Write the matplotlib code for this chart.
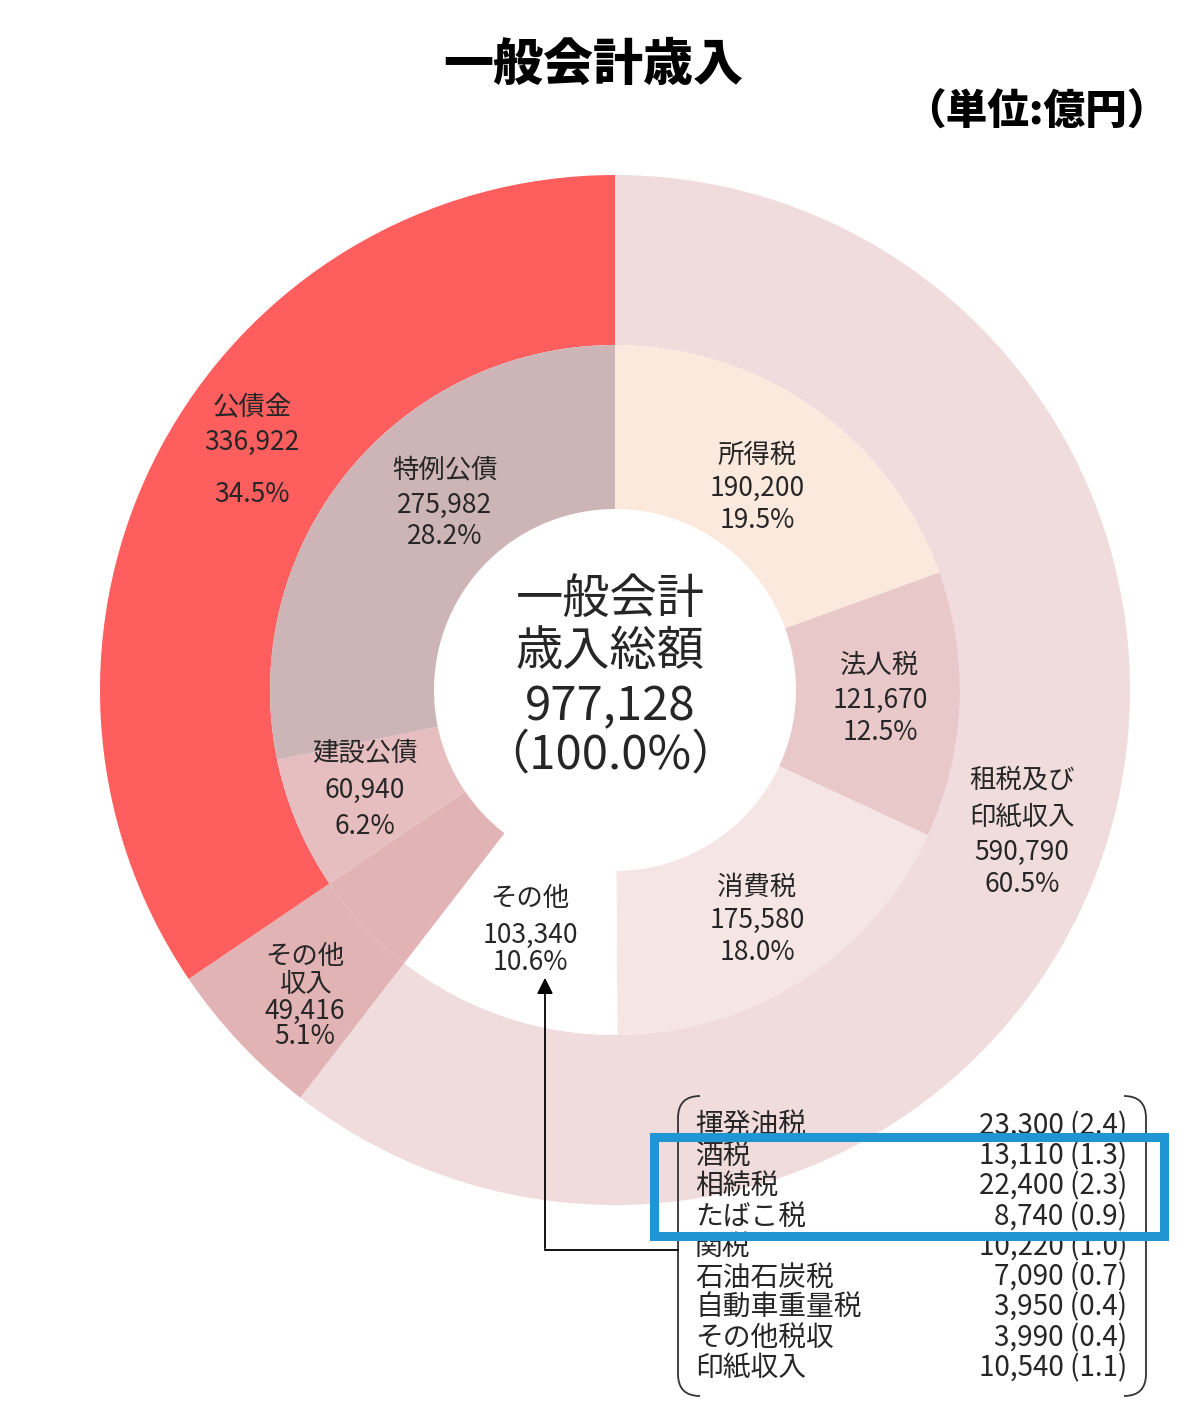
import matplotlib.pyplot as plt
from matplotlib.patches import Rectangle
from matplotlib.path import Path
from matplotlib.patches import PathPatch

plt.rcParams['font.family'] = ['Noto Sans CJK JP', 'DejaVu Sans']

# 外側（大分類）
outer_names = ['租税及び\n印紙収入', 'その他\n収入', '公債金']
outer_values = [590790, 49416, 336922]
outer_colors = ['#F0DCDD', '#E2B3B5', '#FF5E5E']

# 内側（内訳）
inner_names = ['所得税', '法人税', '消費税', 'その他', 'その他収入', '建設公債', '特例公債']
inner_values = [190200, 121670, 175580, 103340, 49416, 60940, 275982]
inner_colors = ['#FCE9DE', '#E9C8CA', '#F6E5E5', '#FFFFFF', '#E2B3B5', '#E7BEBF', '#CDB4B6']

# その他の内訳
other_names = ['揮発油税', '酒税', '相続税', 'たばこ税', '関税', '石油石炭税',
               '自動車重量税', 'その他税収', '印紙収入']
other_values = [23300, 13110, 22400, 8740, 10220, 7090, 3950, 3990, 10540]

total = sum(outer_values)

W, H = 1200, 1416


def Y(y):
    # 画像のピクセル座標（上から）をデータ座標に変換
    return H - y


fig = plt.figure(figsize=(W / 100, H / 100), dpi=100)
ax = fig.add_axes([0, 0, 1, 1])

cx, cy = 615, Y(690)
ax.pie(outer_values, radius=515, center=(cx, cy), startangle=90, counterclock=False,
       colors=outer_colors, wedgeprops=dict(width=170, linewidth=0))
ax.pie(inner_values, radius=345, center=(cx, cy), startangle=90, counterclock=False,
       colors=inner_colors, wedgeprops=dict(width=164, linewidth=0))

ax.set_xlim(0, W)
ax.set_ylim(0, H)
ax.set_aspect('equal')
ax.axis('off')

txt_color = '#262626'


def pct(v):
    return f'{v / total * 100:.1f}%'


def label(x, ys, lines, size=19):
    for yy, s in zip(ys, lines):
        ax.text(x, Y(yy), s, ha='center', va='center', fontsize=size, color=txt_color)


# 外側ラベル
label(252, [408, 442, 495], ['公債金', f'{outer_values[2]:,}', pct(outer_values[2])])
label(1022, [780, 817, 852, 885], ['租税及び', '印紙収入', f'{outer_values[0]:,}', pct(outer_values[0])])
label(305, [957, 984, 1011, 1036], ['その他', '収入', f'{outer_values[1]:,}', pct(outer_values[1])])

# 内側ラベル
label(757, [455, 488, 520], ['所得税', f'{inner_values[0]:,}', pct(inner_values[0])])
label(880, [665, 700, 733], ['法人税', f'{inner_values[1]:,}', pct(inner_values[1])])
label(757, [887, 920, 953], ['消費税', f'{inner_values[2]:,}', pct(inner_values[2])])
label(530, [898, 935, 963], ['その他', f'{inner_values[3]:,}', pct(inner_values[3])])
label(365, [753, 790, 826], ['建設公債', f'{inner_values[5]:,}', pct(inner_values[5])])
label(445, [470, 505, 537], ['特例公債', f'{inner_values[6]:,}', pct(inner_values[6])])

# 中央
label(610, [600, 652, 707, 755], ['一般会計', '歳入総額', f'{total:,}', '（100.0%）'], size=34)

# タイトル
ax.text(593, Y(65), '一般会計歳入', ha='center', va='center', fontsize=36,
        fontweight='heavy', color='black')
ax.text(1036, Y(113), '（単位:億円）', ha='center', va='center', fontsize=30,
        fontweight='heavy', color='black')

# その他の内訳リスト
for i, (n, v) in enumerate(zip(other_names, other_values)):
    yy = 1126 + i * 30.3
    ax.text(695, Y(yy), n, ha='left', va='center', fontsize=20, color=txt_color)
    ax.text(1127, Y(yy), f'{v:,} ({v / total * 100:.1f})', ha='right', va='center',
            fontsize=20, color=txt_color)


# 括弧
def bracket(x_edge, x_tip, y0, y1):
    r = 22
    verts = [(x_tip, Y(y0)), (x_edge, Y(y0)), (x_edge, Y(y0 + r)),
             (x_edge, Y(y1 - r)),
             (x_edge, Y(y1)), (x_tip, Y(y1))]
    codes = [Path.MOVETO, Path.CURVE3, Path.CURVE3, Path.LINETO, Path.CURVE3, Path.CURVE3]
    ax.add_patch(PathPatch(Path(verts, codes), fill=False, lw=1.3, edgecolor='#333333'))


bracket(678, 700, 1096, 1396)
bracket(1146, 1124, 1096, 1396)

# 矢印
ax.plot([545, 678], [Y(1250), Y(1250)], color='black', lw=1.3)
ax.annotate('', xy=(545, Y(975)), xytext=(545, Y(1251)),
            arrowprops=dict(arrowstyle='-|>', color='black', lw=1.3, mutation_scale=24))

# 青枠
ax.add_patch(Rectangle((654, Y(1236)), 1164 - 654, 1236 - 1137, fill=False,
                       edgecolor='#1F95D3', lw=6.5, zorder=10))

fig.savefig('out.png', dpi=100, facecolor='white')
